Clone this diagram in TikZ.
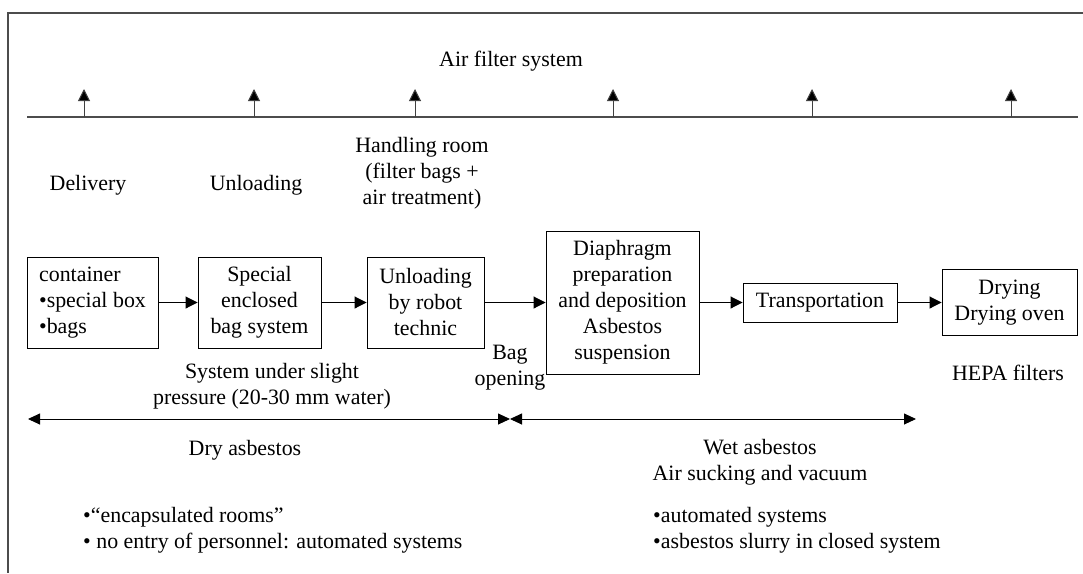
\documentclass[tikz,border=0pt]{standalone}
\usepackage{fontspec}
\setmainfont{Liberation Serif}
\usetikzlibrary{arrows.meta}
\begin{document}
\begin{tikzpicture}[x=1pt,y=-1pt,
  every node/.style={font=\fontsize{21.9}{26}\selectfont, inner sep=0pt},
  frameline/.style={draw=black!70, line width=1.3pt},
  procbox/.style={draw, line width=0.9pt, align=center},
  flow/.style={line width=0.9pt, -{Triangle[width=12pt,length=12pt]}},
  upflow/.style={line width=1pt, draw=black!75, -{Triangle[width=12pt,length=12pt,fill=black]}},
  span/.style={line width=0.9pt, {Triangle[width=11pt,length=12pt]}-{Triangle[width=11pt,length=12pt]}},
  lbl/.style={align=center}
]
\useasboundingbox (0,0) rectangle (1083,573);
% frame
\coordinate (fTR) at (1083,13);
\coordinate (fTL) at (8,13);
\coordinate (fBL) at (8,573);
\draw[frameline] (fTR) -- (fTL) -- (fBL);
% air line
\coordinate (aL) at (27,117);
\coordinate (aR) at (1078,117);
\draw[frameline] (aL) -- (aR);
\node[lbl] (air) at (511,61) {Air filter system};
\foreach \i/\x in {1/84,2/254,3/415,4/613,5/812,6/1011}{
  \coordinate (u\i) at (\x,117);
  \coordinate (t\i) at (\x,89);
  \draw[upflow] (u\i) -- (t\i);
}
% stage labels
\node[lbl] (deliv) at (88,185) {Delivery};
\node[lbl] (unl) at (256,185) {Unloading};
\node[lbl] (hand) at (422,173) {Handling room\\(filter bags +\\air treatment)};
% boxes
\node[procbox, minimum width=131pt, minimum height=91pt, align=left] (b1) at (92.5,302.5) {container\\•special box\\•bags};
\node[procbox, minimum width=123pt, minimum height=91pt] (b2) at (259.5,302.5) {Special\\enclosed\\bag system};
\node[procbox, minimum width=117pt, minimum height=91pt] (b3) at (425.5,302.5) {Unloading\\by robot\\technic};
\node[procbox, minimum width=153pt, minimum height=143pt] (b4) at (622.5,302.5) {Diaphragm\\preparation\\and deposition\\Asbestos\\suspension};
\node[procbox, minimum width=154pt, minimum height=39pt] (b5) at (820,302.5) {Transportation};
\node[procbox, minimum width=135pt, minimum height=66pt] (b6) at (1009.5,302.5) {Drying\\Drying oven};
\draw[flow] (b1) -- (b2);
\draw[flow] (b2) -- (b3);
\draw[flow] (b3) -- (b4);
\draw[flow] (b4) -- (b5);
\draw[flow] (b5) -- (b6);
% under labels
\node[lbl] (press) at (272,386.5) {System under slight\\pressure (20-30 mm water)};
\node[lbl] (bag) at (510,367.5) {Bag\\opening};
\node[lbl] (hepa) at (1008,373) {HEPA filters};
% spans
\coordinate (sL) at (28,419);
\coordinate (sM) at (510,419);
\coordinate (sR) at (916,419);
\draw[span] (sL) -- (sM);
\draw[span] (sM) -- (sR);
\node[lbl] (dry) at (245,450) {Dry asbestos};
\node[lbl] (wet) at (760,462) {Wet asbestos\\Air sucking and vacuum};
\node[align=left, anchor=west] (dryb) at (83,530) {•“encapsulated rooms”\\• no entry of personnel: automated systems};
\node[align=left, anchor=west] (wetb) at (653,530.5) {•automated systems\\•asbestos slurry in closed system};
\end{tikzpicture}
\end{document}
